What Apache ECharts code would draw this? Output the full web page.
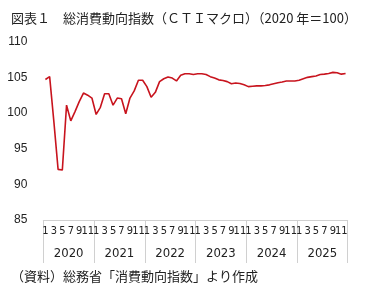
<!DOCTYPE html>
<html><head><meta charset="utf-8">
<script src="https://cdn.jsdelivr.net/npm/echarts@6/dist/echarts.min.js"></script>
<style>html,body{margin:0;padding:0;background:#fff}#c{width:373px;height:302px}</style>
</head><body><div id="c"></div>
<script>
const title = '図表１　総消費動向指数（ＣＴＩマクロ）（2020 年＝100）';
const source = '（資料）総務省「消費動向指数」より作成';
const years = ['2020','2021','2022','2023','2024','2025'];
const months = [1,2,3,4,5,6,7,8,9,10,11,12];
const yTicks = [85, 90, 95, 100, 105, 110];
const values = [
  104.7,105.1,98.8,92.1,92.0,101.1,98.9,100.2,101.6,102.8,102.5,102.1,
  99.8,100.8,102.7,102.7,101.1,102.1,102.0,99.9,102.1,103.1,104.6,104.6,
  103.7,102.2,102.9,104.4,104.8,105.05,104.9,104.5,105.3,105.5,105.5,105.4,
  105.5,105.5,105.4,105.1,104.9,104.65,104.55,104.4,104.1,104.2,104.15,103.95,
  103.7,103.75,103.8,103.8,103.85,103.95,104.1,104.25,104.35,104.5,104.5,104.5,
  104.6,104.8,105.0,105.1,105.2,105.4,105.45,105.55,105.7,105.65,105.45,105.55
];
const cats = [];
years.forEach(y => months.forEach(m => cats.push(y + '-' + m)));

const chart = echarts.init(document.getElementById('c'));
const narrow = "'Liberation Sans Narrow','DejaVu Sans Condensed','Liberation Sans',sans-serif";
chart.setOption({
  animation: false,
  backgroundColor: '#fff',
  title: [
    {text: title, left: 6, top: 7, textStyle: {fontFamily: "'Noto Sans CJK JP'", fontSize: 13, fontWeight: 'normal', color: '#222'}},
    {text: source, left: 6, top: 265, textStyle: {fontFamily: "'Noto Sans CJK JP'", fontSize: 13, fontWeight: 'normal', color: '#222'}}
  ],
  grid: {left: 43.3, right: 25.3, top: 41.7, bottom: 82, containLabel: false},
  xAxis: [
    {type: 'category', data: cats, boundaryGap: true,
     axisLine: {show: true, lineStyle: {color: '#d0d0d0', width: 1}},
     axisTick: {show: false},
     axisLabel: {interval: 0, margin: 6, fontSize: 11, fontFamily: narrow, color: '#222',
       formatter: v => { const m = +v.split('-')[1]; return m % 2 === 1 ? String(m) : ''; }}},
    {type: 'category', data: years, boundaryGap: true, position: 'bottom',
     axisLine: {show: false},
     axisTick: {show: true, length: 43, lineStyle: {color: '#d0d0d0'}},
     axisLabel: {margin: 27, fontSize: 13, fontFamily: narrow, color: '#222'}}
  ],
  yAxis: {type: 'value', min: yTicks[0], max: yTicks[yTicks.length-1], interval: 5,
    axisLine: {show: false}, axisTick: {show: false}, splitLine: {show: false},
    axisLabel: {margin: 16, fontSize: 12, fontFamily: "'Liberation Sans',sans-serif", color: '#222'}},
  series: [{type: 'line', data: values, xAxisIndex: 0, symbol: 'none',
    lineStyle: {color: '#c8141e', width: 1.6}}]
});
</script></body></html>
